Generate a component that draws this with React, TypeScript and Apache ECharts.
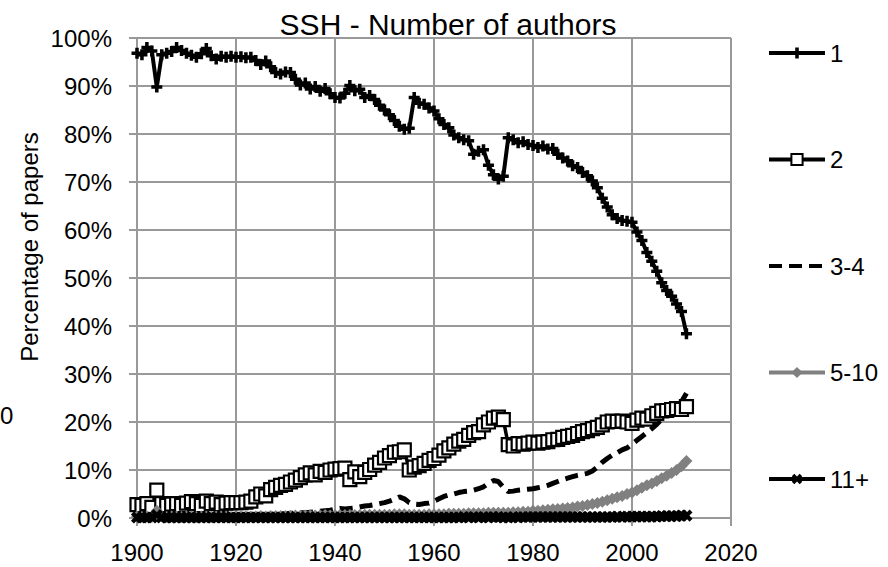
import React, { useEffect, useRef } from 'react';
import * as echarts from 'echarts';

const START_YEAR = 1900;

// Share of papers (%) with 1 author, 1900–2011
const oneAuthor = [
  96.8, 96.5, 98.0, 97.3, 89.8, 96.5, 96.8, 97.2, 98.0, 97.4,
  96.8, 96.4, 96.0, 96.7, 97.8, 96.3, 95.6, 96.2, 96.0, 96.2,
  96.0, 96.1, 95.9, 96.0, 95.3, 94.5, 95.2, 94.0, 92.8, 92.5,
  92.9, 92.8, 91.4, 90.2, 90.6, 89.4, 89.9, 88.9, 89.5, 88.4,
  87.6, 87.5, 88.5, 90.1, 89.0, 89.3, 87.6, 88.0, 87.2, 86.0,
  85.0, 84.0, 82.8, 81.6, 81.0, 81.2, 87.6, 86.4, 86.2, 85.4,
  84.8, 83.2, 82.0, 81.3, 79.8, 79.2, 78.8, 78.6, 75.8, 76.4,
  76.7, 73.5, 71.5, 70.6, 71.2, 79.2, 78.8, 78.2, 78.4, 77.8,
  77.6, 77.2, 77.5, 76.9, 77.0, 75.8, 75.0, 74.4, 73.4, 73.0,
  72.0, 71.3, 70.2, 68.8, 66.6, 64.8, 63.2, 62.4, 62.0, 61.8,
  61.6, 59.6, 57.8, 55.3, 53.5, 51.4, 49.0, 47.4, 46.2, 44.6,
  43.0, 38.4,
];

const twoAuthors = [
  2.8, 2.6, 3.0, 2.2, 5.8, 3.0, 2.6, 2.9, 3.0, 2.6,
  3.1, 3.4, 3.0, 2.6, 3.5, 3.0, 3.3, 2.8, 3.1, 3.2,
  3.2, 3.2, 3.3, 3.5, 4.4, 5.0, 4.6, 5.9, 6.4, 6.8,
  7.0, 7.5, 7.9, 8.4, 9.0, 9.4, 9.0, 9.7, 9.5, 10.0,
  10.2, 10.3, 10.4, 8.0, 9.6, 8.6, 9.5, 10.1, 11.0, 11.6,
  12.5, 13.0, 13.7, 13.8, 14.2, 10.0, 10.6, 10.9, 11.4, 12.0,
  12.4, 13.1, 14.0, 14.6, 15.4, 16.0, 16.4, 17.2, 17.8, 18.0,
  19.4, 20.0, 20.8, 21.0, 20.5, 15.3, 15.0, 15.5, 15.4, 15.6,
  15.8, 15.6, 15.8, 15.9, 16.3, 16.4, 16.8, 17.0, 17.2, 17.6,
  18.0, 18.2, 18.6, 18.9, 19.4, 20.0, 20.2, 20.1, 20.2, 20.0,
  19.7, 20.4, 20.8, 20.6, 21.3, 21.8, 22.3, 22.4, 22.6, 22.8,
  22.6, 23.2,
];

const threeFourAuthors = [
  0.5, 0.4, 0.5, 0.4, 3.0, 0.5, 0.4, 0.5, 0.4, 0.5,
  0.5, 0.4, 0.5, 0.5, 0.4, 0.5, 0.5, 0.5, 0.5, 0.6,
  0.5, 0.6, 0.6, 0.6, 0.7, 0.7, 0.7, 0.8, 0.8, 0.9,
  0.9, 1.0, 1.0, 1.1, 1.1, 1.2, 1.3, 1.4, 1.5, 1.6,
  1.8, 2.0, 1.9, 2.0, 2.1, 2.3, 2.5, 2.6, 2.8, 3.0,
  3.2, 3.5, 3.9, 4.4, 4.0, 3.2, 2.9, 2.8, 3.0, 3.1,
  3.5, 4.0, 4.5, 4.8, 5.0, 5.3, 5.5, 5.6, 5.8, 6.1,
  6.5, 7.2, 7.8, 7.6, 6.4, 5.5, 5.6, 5.8, 5.9, 6.0,
  6.1, 6.3, 6.5, 6.8, 7.2, 7.6, 8.0, 8.3, 8.6, 8.9,
  9.1, 9.3, 9.8, 10.6, 11.6, 12.4, 13.1, 13.6, 14.2, 14.6,
  15.4, 16.2, 17.0, 17.8, 18.6, 19.5, 20.6, 21.6, 22.5, 23.4,
  24.2, 26.0,
];

const fiveTenAuthors = [
  0.3, 0.2, 0.3, 0.2, 1.5, 0.3, 0.2, 0.3, 0.3, 0.2,
  0.3, 0.3, 0.2, 0.3, 0.3, 0.2, 0.3, 0.3, 0.3, 0.2,
  0.3, 0.3, 0.3, 0.3, 0.3, 0.4, 0.3, 0.4, 0.4, 0.4,
  0.4, 0.4, 0.5, 0.4, 0.5, 0.5, 0.5, 0.5, 0.6, 0.5,
  0.6, 0.6, 0.6, 0.6, 0.6, 0.6, 0.7, 0.7, 0.7, 0.7,
  0.7, 0.7, 0.8, 0.8, 0.8, 0.7, 0.7, 0.7, 0.7, 0.8,
  0.8, 0.8, 0.8, 0.9, 0.9, 0.9, 0.9, 1.0, 1.0, 1.0,
  1.0, 1.1, 1.1, 1.1, 1.1, 1.1, 1.2, 1.2, 1.3, 1.3,
  1.5, 1.5, 1.6, 1.7, 1.8, 1.9, 2.0, 2.1, 2.2, 2.4,
  2.5, 2.7, 2.9, 3.1, 3.4, 3.7, 4.0, 4.3, 4.6, 5.0,
  5.3, 5.8, 6.3, 6.8, 7.2, 7.7, 8.3, 8.8, 9.4, 10.0,
  10.8, 11.9,
];

const elevenPlusAuthors = [
  0.1, 0.1, 0.1, 0.1, 0.6, 0.1, 0.1, 0.1, 0.1, 0.1,
  0.1, 0.1, 0.1, 0.1, 0.1, 0.1, 0.1, 0.1, 0.1, 0.1,
  0.1, 0.1, 0.1, 0.1, 0.1, 0.1, 0.1, 0.1, 0.1, 0.1,
  0.1, 0.1, 0.1, 0.1, 0.1, 0.1, 0.1, 0.1, 0.1, 0.1,
  0.1, 0.1, 0.1, 0.1, 0.1, 0.1, 0.1, 0.1, 0.1, 0.1,
  0.1, 0.1, 0.1, 0.1, 0.1, 0.1, 0.1, 0.1, 0.1, 0.1,
  0.1, 0.1, 0.1, 0.1, 0.1, 0.1, 0.2, 0.1, 0.2, 0.1,
  0.2, 0.1, 0.2, 0.2, 0.1, 0.1, 0.2, 0.1, 0.2, 0.2,
  0.2, 0.2, 0.2, 0.2, 0.2, 0.2, 0.2, 0.2, 0.2, 0.2,
  0.2, 0.2, 0.2, 0.2, 0.2, 0.2, 0.2, 0.3, 0.2, 0.3,
  0.3, 0.3, 0.3, 0.3, 0.3, 0.3, 0.4, 0.4, 0.4, 0.4,
  0.5, 0.5,
];

const seriesNames = ['1', '2', '3-4', '5-10', '11+'];
const xTicks = { min: 1900, max: 2020, interval: 20 };
const yTicks = { min: 0, max: 100, interval: 10 };
const titleText = 'SSH - Number of authors';
const yAxisTitle = 'Percentage of papers';
const strayLabel = '0';

const FONT = "'Liberation Sans', Arial, sans-serif";
const GRID_GREY = '#999999';
const PLUS = 'path://M3.4,0H6.6V3.4H10V6.6H6.6V10H3.4V6.6H0V3.4H3.4Z';

const toPoints = (vals: number[]) => vals.map((v, i) => [START_YEAR + i, v]);

export default function App() {
  const ref = useRef<HTMLDivElement>(null);

  useEffect(() => {
    if (!ref.current) return;
    const chart = echarts.init(ref.current, undefined, { renderer: 'svg' });
    const option: any = {
      animation: false,
      backgroundColor: '#ffffff',
      grid: { left: 137, right: 157, top: 38, bottom: 49, containLabel: false },
      graphic: [
        {
          type: 'text',
          x: 448,
          y: 24,
          style: {
            text: titleText,
            font: `30px ${FONT}`,
            fill: '#000',
            align: 'center',
            verticalAlign: 'middle',
          },
        },
        {
          type: 'text',
          x: 29,
          y: 247,
          rotation: Math.PI / 2,
          style: {
            text: yAxisTitle,
            font: `24px ${FONT}`,
            fill: '#000',
            align: 'center',
            verticalAlign: 'middle',
          },
        },
        {
          type: 'text',
          x: 0,
          y: 415,
          style: {
            text: strayLabel,
            font: `24px ${FONT}`,
            fill: '#000',
            align: 'left',
            verticalAlign: 'middle',
          },
        },
      ],
      legend: {
        orient: 'vertical',
        left: 762,
        top: 36,
        itemWidth: 56,
        itemHeight: 14,
        itemGap: 82.5,
        lineStyle: { width: 4 },
        textStyle: { fontSize: 24, lineHeight: 24, color: '#000', fontFamily: FONT },
        data: [
          { name: seriesNames[0] },
          { name: seriesNames[1] },
          {
            name: seriesNames[2],
            itemStyle: { color: 'transparent', borderColor: 'transparent', borderWidth: 0 },
          },
          { name: seriesNames[3] },
          { name: seriesNames[4] },
        ],
      },
      xAxis: {
        type: 'value',
        min: xTicks.min,
        max: xTicks.max,
        interval: xTicks.interval,
        axisLine: { show: true, lineStyle: { color: GRID_GREY, width: 2 } },
        axisTick: { show: true, length: 8, lineStyle: { color: GRID_GREY, width: 2 } },
        splitLine: { show: true, lineStyle: { color: GRID_GREY, width: 2 } },
        axisLabel: {
          fontSize: 24,
          fontFamily: FONT,
          color: '#000',
          margin: 22,
          formatter: (v: number) => String(v),
        },
      },
      yAxis: {
        type: 'value',
        min: yTicks.min,
        max: yTicks.max,
        interval: yTicks.interval,
        axisLine: { show: true, lineStyle: { color: GRID_GREY, width: 2 } },
        axisTick: { show: true, length: 8, lineStyle: { color: GRID_GREY, width: 2 } },
        splitLine: { show: true, lineStyle: { color: GRID_GREY, width: 2 } },
        axisLabel: {
          fontSize: 24,
          fontFamily: FONT,
          color: '#000',
          margin: 25,
          formatter: '{value}%',
        },
      },
      series: [
        {
          name: seriesNames[0],
          type: 'line',
          data: toPoints(oneAuthor),
          symbol: PLUS,
          symbolSize: 11,
          lineStyle: { color: '#000', width: 4 },
          itemStyle: { color: '#000', borderWidth: 0 },
        },
        {
          name: seriesNames[1],
          type: 'line',
          data: toPoints(twoAuthors),
          symbol: 'rect',
          symbolSize: 13,
          lineStyle: { color: '#000', width: 3.5 },
          itemStyle: { color: '#fff', borderColor: '#000', borderWidth: 2.2 },
        },
        {
          name: seriesNames[2],
          type: 'line',
          data: toPoints(threeFourAuthors),
          showSymbol: false,
          symbol: 'circle',
          lineStyle: { color: '#000', width: 5, type: [13, 7] },
          itemStyle: { color: '#000' },
        },
        {
          name: seriesNames[3],
          type: 'line',
          data: toPoints(fiveTenAuthors),
          symbol: 'diamond',
          symbolSize: 12,
          lineStyle: { color: '#808080', width: 4.5 },
          itemStyle: { color: '#808080', borderWidth: 0 },
        },
        {
          name: seriesNames[4],
          type: 'line',
          data: toPoints(elevenPlusAuthors),
          symbol: PLUS,
          symbolRotate: 45,
          symbolSize: 13,
          lineStyle: { color: '#000', width: 4 },
          itemStyle: { color: '#000', borderWidth: 0 },
        },
      ],
    };
    chart.setOption(option);
    return () => chart.dispose();
  }, []);

  return (
    <div
      ref={ref}
      style={{ position: 'fixed', left: 0, top: 0, width: 888, height: 567, background: '#fff' }}
    />
  );
}
